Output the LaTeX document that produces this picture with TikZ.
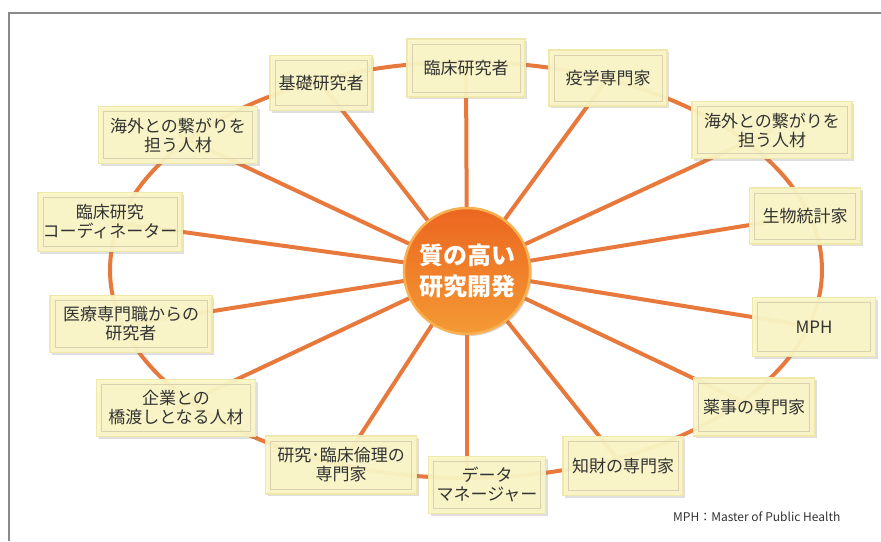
\documentclass[tikz,border=0pt]{standalone}
\usepackage{fontspec}
\setmainfont{Noto Sans CJK JP}
\usetikzlibrary{shadows}
\pgfdeclarelayer{background}
\pgfsetlayers{background,main}
\definecolor{spokec}{HTML}{E8793C}
\definecolor{boxfill}{HTML}{FAF6C6}
\definecolor{boxedge}{HTML}{EFE7AC}
\definecolor{boxinner}{HTML}{D9D1B0}
\definecolor{txt}{HTML}{333333}
\definecolor{circtop}{HTML}{EC6620}
\definecolor{circbot}{HTML}{F49A34}
\definecolor{circedge}{HTML}{F8B050}
\definecolor{framec}{HTML}{8A8A8A}
\begin{document}
\begin{tikzpicture}[x=1pt,y=-1pt,
  box/.style={draw=boxedge, line width=1.6pt, fill=boxfill, fill opacity=0.94, text opacity=1,
    align=center, inner sep=0pt, font=\fontsize{17}{19}\selectfont, text=txt,
    drop shadow={opacity=0.25, shadow xshift=2pt, shadow yshift=-2pt},
    path picture={\draw[boxinner, line width=0.8pt]
      ([shift={(5pt,-5pt)}]path picture bounding box.north west) rectangle
      ([shift={(-5pt,5pt)}]path picture bounding box.south east);}},
  spoke/.style={draw=spokec, line width=4pt},
  hub/.style={circle, minimum size=126pt, inner sep=0pt, top color=circtop, bottom color=circbot,
    draw=circedge, line width=2.5pt, text=white, align=center,
    font=\fontsize{24}{31}\selectfont\bfseries,
    drop shadow={opacity=0.3, shadow xshift=2pt, shadow yshift=-2pt}},
  note/.style={font=\fontsize{12}{14}\selectfont, text=txt, anchor=west, inner sep=0pt}]
\useasboundingbox (0,0) rectangle (881,541);
\draw[framec, line width=1.2pt] (9,541) -- (9,13) -- (881,13);

\node[hub] (c) at (467,271) {質の高い\\研究開発};

\node[box, minimum width=102pt, minimum height=55pt] (b1) at (321,83) {基礎研究者};
\node[box, minimum width=118pt, minimum height=58pt] (b2) at (466,68) {臨床研究者};
\node[box, minimum width=118pt, minimum height=56pt] (b3) at (608,78) {疫学専門家};
\node[box, minimum width=160pt, minimum height=57pt] (b4) at (772,130) {海外との繋がりを\\担う人材};
\node[box, minimum width=111pt, minimum height=56pt] (b5) at (805,216) {生物統計家};
\node[box, minimum width=123pt, minimum height=59pt] (b6) at (814,327) {MPH};
\node[box, minimum width=121pt, minimum height=58pt] (b7) at (754,407) {薬事の専門家};
\node[box, minimum width=120pt, minimum height=59pt] (b8) at (623,466) {知財の専門家};
\node[box, minimum width=117pt, minimum height=57pt] (b9) at (487,485) {データ\\マネージャー};
\node[box, minimum width=151pt, minimum height=58pt] (b10) at (341,465) {研究･臨床倫理の\\専門家};
\node[box, minimum width=159pt, minimum height=57pt] (b11) at (176,408) {企業との\\橋渡しとなる人材};
\node[box, minimum width=162pt, minimum height=57pt] (b12) at (131,324) {医療専門職からの\\研究者};
\node[box, minimum width=144pt, minimum height=59pt] (b13) at (110,222) {臨床研究\\コーディネーター};
\node[box, minimum width=159pt, minimum height=57pt] (b14) at (178,135) {海外との繋がりを\\担う人材};

\node[note] (n) at (673,517) {MPH：Master of Public Health};

\begin{pgfonlayer}{background}
  \draw[spoke] (466,270) ellipse [x radius=356, y radius=208];
  \foreach \i in {1,...,8,10,11,12,13,14} { \draw[spoke] (c.center) -- (b\i.center); }
  \draw[spoke] (c.center) -- (c.center |- b9.center);
\end{pgfonlayer}
\end{tikzpicture}
\end{document}
